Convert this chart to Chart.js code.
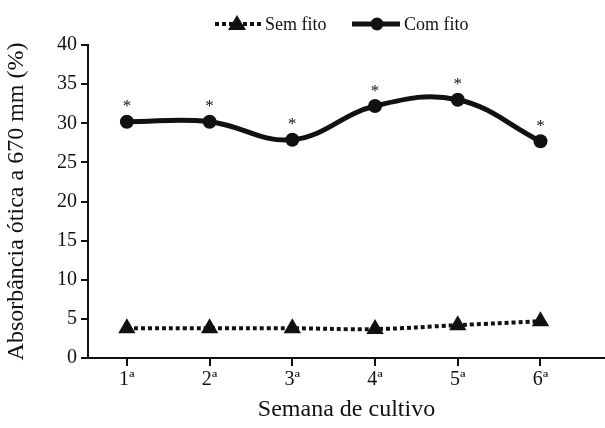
<!DOCTYPE html>
<html>
<head>
<meta charset="utf-8">
<script src="https://cdn.jsdelivr.net/npm/chart.js@4.4.1/dist/chart.umd.min.js"></script>
<style>
  html, body { margin: 0; padding: 0; background: #fff; }
  #wrap { width: 605px; height: 428px; }
</style>
</head>
<body>
<div id="wrap"><canvas id="chart"></canvas></div>
<script>
/* ---- data ---- */
const weeks   = ['1ª', '2ª', '3ª', '4ª', '5ª', '6ª'];
const semFito = [3.8, 3.8, 3.8, 3.7, 4.2, 4.7];
const comFito = [30.2, 30.2, 27.9, 32.2, 33.0, 27.7];
const signif  = ['*', '*', '*', '*', '*', '*'];
const yTicks  = [0, 5, 10, 15, 20, 25, 30, 35, 40];

const FONT = "'Liberation Serif', 'Times New Roman', serif";
const toPts = arr => arr.map((v, i) => ({ x: i + 1, y: v }));

/* asterisks above "Com fito" points + custom top legend */
const extras = {
  id: 'extras',
  afterDatasetsDraw(chart) {
    const { ctx } = chart;
    const meta = chart.getDatasetMeta(1);
    ctx.save();
    ctx.fillStyle = '#111';
    ctx.font = '17px ' + FONT;
    ctx.textAlign = 'center';
    ctx.textBaseline = 'middle';
    meta.data.forEach((pt, i) => {
      ctx.fillText(signif[i], pt.x, pt.y - 15);
    });
    ctx.restore();
  },
  afterDraw(chart) {
    const { ctx } = chart;
    const y = 24;
    ctx.save();
    ctx.strokeStyle = '#111';
    ctx.fillStyle = '#111';
    // Sem fito sample
    ctx.lineWidth = 4;
    ctx.setLineDash([4, 3]);
    ctx.beginPath(); ctx.moveTo(215, y); ctx.lineTo(261, y); ctx.stroke();
    ctx.setLineDash([]);
    ctx.beginPath();
    ctx.moveTo(237, y - 9); ctx.lineTo(246, y + 6); ctx.lineTo(228, y + 6);
    ctx.closePath(); ctx.fill();
    // Com fito sample
    ctx.lineWidth = 5;
    ctx.beginPath(); ctx.moveTo(352, y); ctx.lineTo(400, y); ctx.stroke();
    ctx.beginPath(); ctx.arc(377, y, 6.5, 0, Math.PI * 2); ctx.fill();
    // labels
    ctx.font = '18px ' + FONT;
    ctx.textAlign = 'left';
    ctx.textBaseline = 'middle';
    ctx.fillText('Sem fito', 265, y + 1);
    ctx.fillText('Com fito', 404, y + 1);
    ctx.restore();
  }
};

new Chart(document.getElementById('chart'), {
  type: 'line',
  data: {
    datasets: [
      {
        label: 'Sem fito',
        data: toPts(semFito),
        borderColor: '#111',
        backgroundColor: '#111',
        borderWidth: 4,
        borderDash: [4, 3],
        tension: 0.4,
        pointStyle: 'triangle',
        pointRadius: 10,
        pointBorderWidth: 0,
        pointBackgroundColor: '#111'
      },
      {
        label: 'Com fito',
        data: toPts(comFito),
        borderColor: '#111',
        backgroundColor: '#111',
        borderWidth: 5,
        tension: 0.4,
        pointStyle: 'circle',
        pointRadius: 7,
        pointBorderWidth: 0,
        pointBackgroundColor: '#111'
      }
    ]
  },
  options: {
    responsive: true,
    maintainAspectRatio: false,
    animation: false,
    layout: { autoPadding: false, padding: { top: 45, right: 0, left: 0, bottom: 0 } },
    plugins: {
      legend: { display: false },
      tooltip: { enabled: false }
    },
    scales: {
      x: {
        type: 'linear',
        min: 0.53,
        max: 6.78,
        afterBuildTicks: s => { s.ticks = weeks.map((_, i) => ({ value: i + 1 })); },
        afterFit: s => { s.height = 70; },
        border: { display: true, color: '#111', width: 2 },
        grid: { drawOnChartArea: false, drawTicks: true, tickLength: 8, color: '#111', lineWidth: 2 },
        ticks: {
          font: { size: 20, family: FONT },
          color: '#111',
          padding: 2,
          callback: v => weeks[v - 1]
        },
        title: {
          display: true,
          text: 'Semana de cultivo',
          font: { size: 24, family: FONT },
          color: '#111',
          padding: { top: 10 }
        }
      },
      y: {
        min: 0,
        max: 40,
        afterBuildTicks: s => { s.ticks = yTicks.map(v => ({ value: v })); },
        afterFit: s => { s.width = 88; },
        border: { display: true, color: '#111', width: 2 },
        grid: { drawOnChartArea: false, drawTicks: true, tickLength: 7, color: '#111', lineWidth: 2 },
        ticks: {
          font: { size: 20, family: FONT },
          color: '#111',
          padding: 4
        },
        title: {
          display: true,
          text: 'Absorbância ótica a 670 mm (%)',
          font: { size: 24, family: FONT },
          color: '#111',
          padding: { top: 2, bottom: 2 }
        }
      }
    }
  },
  plugins: [extras]
});
</script>
</body>
</html>
